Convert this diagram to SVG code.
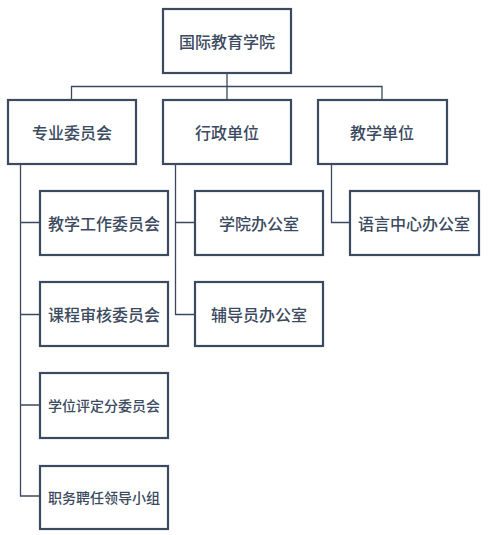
<svg xmlns="http://www.w3.org/2000/svg" width="492" height="535" viewBox="0 0 492 535">
<style>
.box{fill:#fff;stroke:#3b4a5e;stroke-width:2.2}
.t{font-family:"Noto Sans CJK SC","Microsoft YaHei",sans-serif;font-size:16px;fill:#3b4a5e;text-anchor:middle;dominant-baseline:central;font-weight:500}
.s{font-size:14px}
.c{fill:none;stroke:#3b4a5e;stroke-width:1.3}
</style>
<rect width="492" height="535" fill="#fff"/>
<g id="connectors">
<path class="c" d="M227 72V86.5M71.5 99V86.5H382V99M227 86.5V99"/>
<path class="c" d="M20.5 164V496H40M20.5 222.5H40M20.5 314.5H40M20.5 405H40"/>
<path class="c" d="M175.5 164V314.5H195M175.5 222.5H195"/>
<path class="c" d="M331.5 164V222.5H350"/>
</g>
<g id="n-root"><rect class="box" x="163" y="9" width="128" height="64"/><text class="t" x="227" y="41">国际教育学院</text></g>
<g id="n-zhuanye"><rect class="box" x="8" y="100" width="128" height="64"/><text class="t" x="72" y="132">专业委员会</text></g>
<g id="n-xingzheng"><rect class="box" x="163" y="100" width="128" height="64"/><text class="t" x="227" y="132">行政单位</text></g>
<g id="n-jiaoxue"><rect class="box" x="318" y="100" width="129" height="64"/><text class="t" x="382" y="132">教学单位</text></g>
<g id="n-jxgz"><rect class="box" x="40" y="191" width="128" height="64"/><text class="t" x="104" y="223">教学工作委员会</text></g>
<g id="n-kcsh"><rect class="box" x="40" y="282" width="128" height="64"/><text class="t" x="104" y="314">课程审核委员会</text></g>
<g id="n-xwpd"><rect class="box" x="40" y="373" width="128" height="65"/><text class="t s" x="104" y="405">学位评定分委员会</text></g>
<g id="n-zwpr"><rect class="box" x="40" y="466" width="128" height="63"/><text class="t s" x="104" y="497">职务聘任领导小组</text></g>
<g id="n-xybgs"><rect class="box" x="195" y="191" width="128" height="64"/><text class="t" x="259" y="223">学院办公室</text></g>
<g id="n-fdybgs"><rect class="box" x="195" y="282" width="128" height="64"/><text class="t" x="259" y="314">辅导员办公室</text></g>
<g id="n-yyzx"><rect class="box" x="350" y="191" width="129" height="64"/><text class="t" x="414" y="223">语言中心办公室</text></g>
</svg>
